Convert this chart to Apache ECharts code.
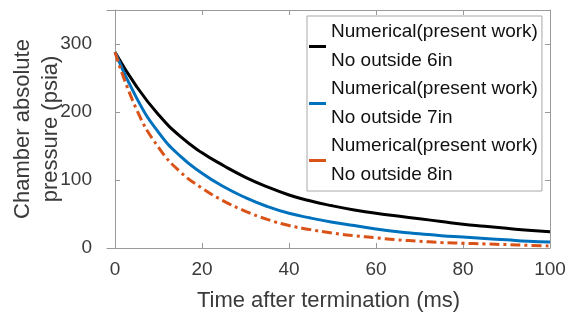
<!DOCTYPE html>
<html>
<head>
<meta charset="utf-8">
<script src="https://cdn.jsdelivr.net/npm/echarts@6/dist/echarts.min.js"></script>
<style>
  html, body { margin: 0; padding: 0; background: #fff; }
  #chart { width: 568px; height: 320px; }
</style>
</head>
<body>
<div id="chart"></div>
<script>
// time after termination (ms)
var timeMs = [0, 5, 10, 15, 20, 25, 30, 35, 40, 45, 50, 55, 60, 65, 70, 75, 80, 85, 90, 95, 100];
// chamber absolute pressure (psia)
var p6in = [288, 237, 196, 164, 140, 121, 104, 90, 78, 69, 62, 56, 51, 47, 43, 39, 35, 32, 29, 26, 24];
var p7in = [288, 220, 170, 135, 110, 90, 74, 61, 51, 44, 38, 33, 28, 24, 21, 18, 16, 14, 12, 10, 9];
var p8in = [288, 203, 148, 112, 88, 69, 54, 42, 33, 27, 22, 18, 15, 12, 10, 8, 7, 6, 5, 4, 3];
var xTicks = [0, 20, 40, 60, 80, 100];
var yTicks = [0, 100, 200, 300];
var names = ['Numerical(present work)\nNo outside 6in', 'Numerical(present work)\nNo outside 7in', 'Numerical(present work)\nNo outside 8in'];

function pairs(ys) {
  return timeMs.map(function (t, i) { return [t, ys[i]]; });
}

var axisGray = '#9a9a9a';
var textCol = '#3a3a3a';
var font = 'Liberation Sans, Arial, sans-serif';

var chart = echarts.init(document.getElementById('chart'));
var option = {
  animation: false,
  grid: { left: 107, top: 10, right: 18, bottom: 72, outerBoundsMode: 'none', containLabel: false },
  legend: {
    left: 307, top: 16,
    orient: 'vertical',
    backgroundColor: '#fff',
    borderColor: '#a8a8a8', borderWidth: 1,
    padding: [2, 4, 2, 2],
    itemGap: 0,
    itemWidth: 17, itemHeight: 3,
    icon: 'rect',
    textStyle: { fontSize: 19, lineHeight: 28.5, color: '#111', fontFamily: font }
  },
  xAxis: [{
    type: 'value', min: -1.85, max: 100,
    name: 'Time after termination (ms)', nameLocation: 'middle', nameGap: 42, nameMoveOverlap: false,
    nameTextStyle: { fontSize: 22, color: textCol, fontFamily: font },
    axisLine: { lineStyle: { color: axisGray } },
    axisTick: { inside: true, length: 5, customValues: xTicks, lineStyle: { color: axisGray } },
    axisLabel: { customValues: xTicks, margin: 12, fontSize: 19, color: textCol, fontFamily: font },
    splitLine: { show: false }
  }, {
    type: 'value', position: 'top', min: -1.85, max: 100,
    axisLine: { show: true, onZero: false, lineStyle: { color: axisGray } },
    axisTick: { inside: true, length: 5, customValues: xTicks, lineStyle: { color: axisGray } },
    axisLabel: { show: false },
    splitLine: { show: false }
  }],
  yAxis: [{
    type: 'value', min: 0, max: 350,
    name: 'Chamber absolute\npressure (psia)', nameLocation: 'middle', nameGap: 42, nameRotate: 90,
    nameMoveOverlap: false,
    nameTextStyle: { fontSize: 22, lineHeight: 28, color: textCol, fontFamily: font },
    axisLine: { show: true, lineStyle: { color: axisGray } },
    axisTick: { show: true, inside: true, length: 5, customValues: yTicks, lineStyle: { color: axisGray } },
    axisLabel: { customValues: yTicks, margin: 15, fontSize: 19, color: textCol, fontFamily: font },
    splitLine: { show: false }
  }, {
    type: 'value', position: 'right', min: 0, max: 350,
    axisLine: { show: true, onZero: false, lineStyle: { color: axisGray } },
    axisTick: { show: true, inside: true, length: 5, customValues: yTicks, lineStyle: { color: axisGray } },
    axisLabel: { show: false },
    splitLine: { show: false }
  }],
  series: [{
    name: names[0], type: 'line', smooth: true, showSymbol: false,
    data: pairs(p6in), color: '#000000',
    lineStyle: { width: 3, color: '#000000' }
  }, {
    name: names[1], type: 'line', smooth: true, showSymbol: false,
    data: pairs(p7in), color: '#0072BD',
    lineStyle: { width: 3, color: '#0072BD' }
  }, {
    name: names[2], type: 'line', smooth: true, showSymbol: false,
    data: pairs(p8in), color: '#D95319',
    lineStyle: { width: 3, color: '#D95319', type: [10, 4, 3, 4] }
  }]
};
chart.setOption(option);
</script>
</body>
</html>
